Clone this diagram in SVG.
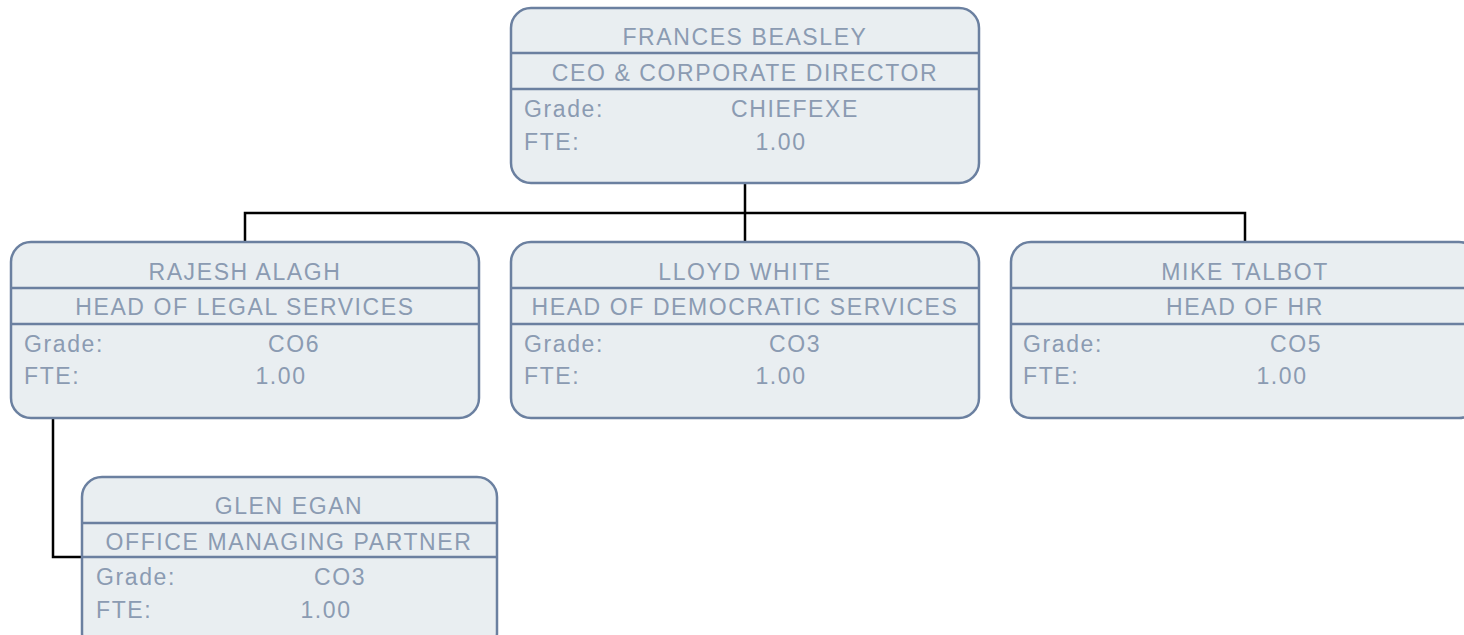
<svg xmlns="http://www.w3.org/2000/svg" width="1464" height="635" viewBox="0 0 1464 635">
<style>
.box{fill:#e9eef1;stroke:#6b80a0;stroke-width:2.5}
.div{stroke:#6b80a0;stroke-width:2.5}
text{font-family:"Liberation Sans",Arial,sans-serif;font-size:23px;fill:#8b9bb2;letter-spacing:1.6px}
.c{text-anchor:middle}
.conn{fill:none;stroke:#000;stroke-width:2.5}
</style>
<rect width="1464" height="635" fill="#fff"/>
<g id="connectors">
<path class="conn" d="M745 183V213M245 242V213H1245V242M745 213V242"/>
<path class="conn" d="M53 418V557H82"/>
</g>
<g id="n-frances">
<rect class="box" x="511" y="8" width="468" height="175" rx="20"/>
<line class="div" x1="511" y1="53" x2="979" y2="53"/>
<line class="div" x1="511" y1="89" x2="979" y2="89"/>
<text class="c" x="745" y="45">FRANCES BEASLEY</text>
<text class="c" x="745" y="81">CEO &amp; CORPORATE DIRECTOR</text>
<text x="524" y="117">Grade:</text>
<text class="c" x="795" y="117">CHIEFEXE</text>
<text x="524" y="150">FTE:</text>
<text class="c" x="781" y="150">1.00</text>
</g>
<g id="n-rajesh">
<rect class="box" x="11" y="242" width="468" height="176" rx="20"/>
<line class="div" x1="11" y1="288" x2="479" y2="288"/>
<line class="div" x1="11" y1="324" x2="479" y2="324"/>
<text class="c" x="245" y="280">RAJESH ALAGH</text>
<text class="c" x="245" y="315">HEAD OF LEGAL SERVICES</text>
<text x="24" y="352">Grade:</text>
<text class="c" x="294" y="352">CO6</text>
<text x="24" y="384">FTE:</text>
<text class="c" x="281" y="384">1.00</text>
</g>
<g id="n-lloyd">
<rect class="box" x="511" y="242" width="468" height="176" rx="20"/>
<line class="div" x1="511" y1="288" x2="979" y2="288"/>
<line class="div" x1="511" y1="324" x2="979" y2="324"/>
<text class="c" x="745" y="280">LLOYD WHITE</text>
<text class="c" x="745" y="315">HEAD OF DEMOCRATIC SERVICES</text>
<text x="524" y="352">Grade:</text>
<text class="c" x="795" y="352">CO3</text>
<text x="524" y="384">FTE:</text>
<text class="c" x="781" y="384">1.00</text>
</g>
<g id="n-mike">
<rect class="box" x="1011" y="242" width="468" height="176" rx="20"/>
<line class="div" x1="1011" y1="288" x2="1479" y2="288"/>
<line class="div" x1="1011" y1="324" x2="1479" y2="324"/>
<text class="c" x="1245" y="280">MIKE TALBOT</text>
<text class="c" x="1245" y="315">HEAD OF HR</text>
<text x="1023" y="352">Grade:</text>
<text class="c" x="1296" y="352">CO5</text>
<text x="1023" y="384">FTE:</text>
<text class="c" x="1282" y="384">1.00</text>
</g>
<g id="n-glen">
<rect class="box" x="82" y="477" width="415" height="176" rx="20"/>
<line class="div" x1="82" y1="523" x2="497" y2="523"/>
<line class="div" x1="82" y1="557" x2="497" y2="557"/>
<text class="c" x="289" y="514">GLEN EGAN</text>
<text class="c" x="289" y="550">OFFICE MANAGING PARTNER</text>
<text x="96" y="585">Grade:</text>
<text class="c" x="340" y="585">CO3</text>
<text x="96" y="618">FTE:</text>
<text class="c" x="326" y="618">1.00</text>
</g>
</svg>
